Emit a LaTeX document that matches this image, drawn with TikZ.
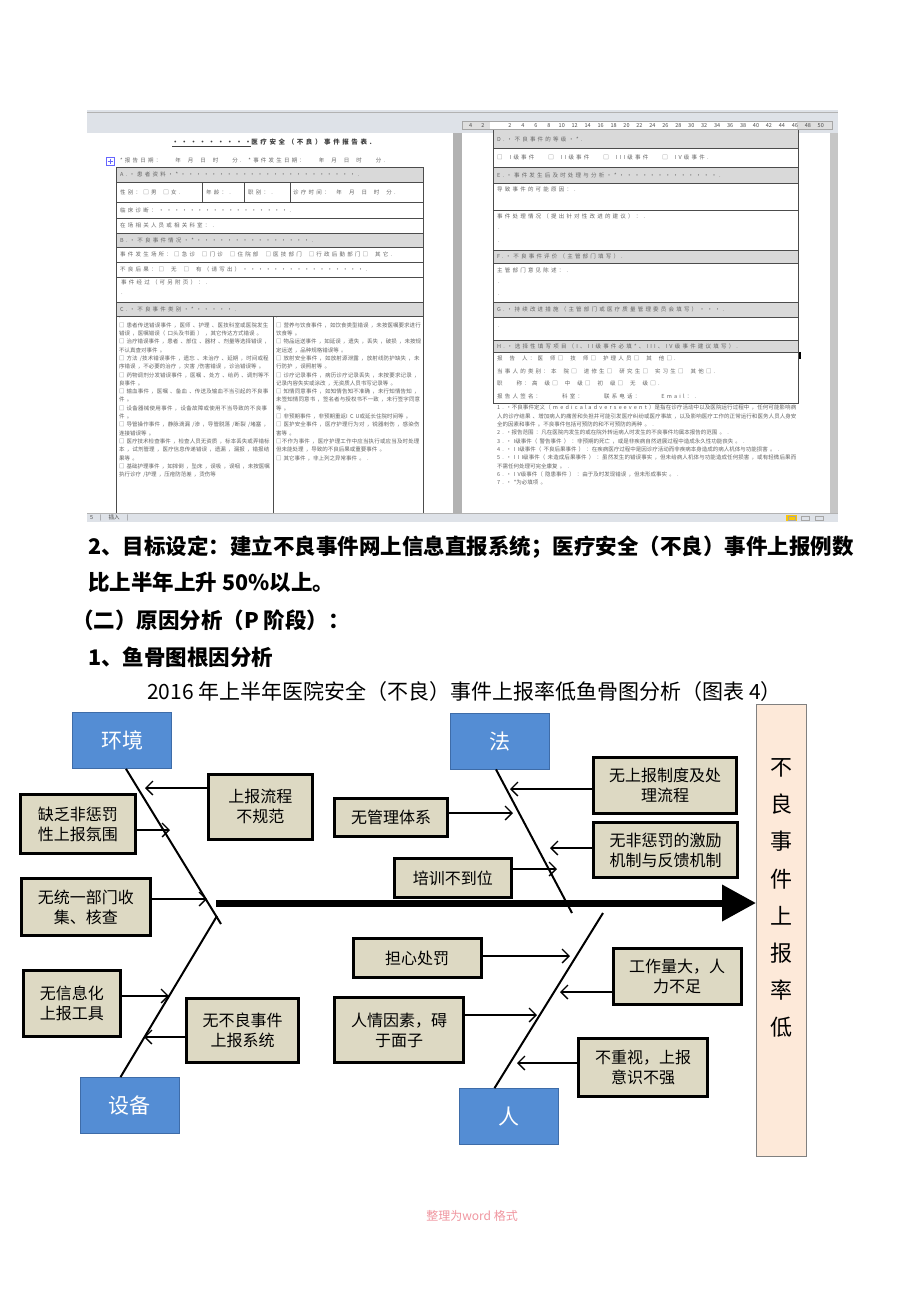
\documentclass[tikz,border=0pt]{standalone}
\usepackage{fontspec}
\usepackage{tikz}
\usetikzlibrary{arrows.meta}
\newfontfamily\cjk{Noto Sans CJK SC}
\newfontfamily\shotcjk[LetterSpace=40]{Noto Sans CJK SC}
\XeTeXlinebreaklocale "zh"
\XeTeXlinebreakskip=0pt plus 1pt
\newcommand\gp{\hspace{7pt}}
\definecolor{catblue}{RGB}{84,141,212}
\definecolor{catedge}{RGB}{62,108,168}
\definecolor{causefill}{RGB}{221,217,195}
\definecolor{effectfill}{RGB}{253,233,217}
\definecolor{effectedge}{RGB}{128,128,128}
\definecolor{barfill}{RGB}{222,226,232}
\definecolor{rowgray}{RGB}{217,217,217}
\definecolor{shotink}{RGB}{100,100,100}
\definecolor{marknote}{RGB}{240,150,160}

\begin{document}
\begin{tikzpicture}[x=1pt, y=-1pt,
  catbox/.style={fill=catblue, draw=catedge, line width=0.8pt, text=white, minimum width=99pt, minimum height=56pt, inner sep=0pt, font=\cjk\fontsize{21}{24}\selectfont},
  causebox/.style={fill=causefill, draw=black, line width=3pt, align=center, inner sep=1pt, font=\cjk\fontsize{16}{20}\selectfont},
  effectbox/.style={fill=effectfill, draw=effectedge, line width=1pt, minimum width=50pt, minimum height=452pt},
  bone/.style={line width=2pt},
  feed/.style={line width=1.3pt, -{Straight Barb[length=7pt,width=14pt]}},
  spine/.style={line width=7pt, -{Triangle[length=34pt,width=35pt]}},
  bodytext/.style={anchor=west, inner sep=0pt, font=\cjk\bfseries\fontsize{21.5}{26}\selectfont},
  cell/.style={anchor=west, inner sep=0pt, text=shotink, font=\shotcjk\fontsize{5.5}{8.3}\selectfont},
  para/.style={anchor=north west, inner sep=0pt, align=left, text width=#1, text=shotink, font=\shotcjk\fontsize{5.5}{8.3}\selectfont},
  rulenum/.style={inner sep=0pt, text=black!70, font=\cjk\fontsize{5.5}{6}\selectfont},
  shotline/.style={draw=black!70, line width=0.7pt}]
\useasboundingbox (0,0) rectangle (920,1302);
\fill[white] (0,0) rectangle (920,1302);

% screenshot of the report form
\fill[barfill] (87,110) rectangle (838,133);
\draw[gray!60, line width=0.6pt] (87,112.5) -- (838,112.5);
\fill[white] (87,133) rectangle (453,513);
\fill[gray!60] (453,133) rectangle (462,513);
\fill[white] (462,133) rectangle (830,513);
\fill[gray!45] (830,133) rectangle (838,513);
\fill[white] (462,121) rectangle (832,129.5);
\fill[gray!25] (462,121) rectangle (490,129.5);
\fill[gray!25] (797,121) rectangle (832,129.5);
\draw[gray!70, line width=0.5pt] (462,121) rectangle (832,129.5);
\node[rulenum] (rl4) at (470.7,125.5) {4};
\node[rulenum] (rl2) at (483,125.5) {2};
\foreach \k [evaluate=\k as \lab using int(2*\k)] in {1,...,25}
  \node[rulenum] (r\k) at (497+12.95*\k,125.5) {\lab};

\node[inner sep=0pt, font=\shotcjk\bfseries\fontsize{6.5}{8}\selectfont, text=black!75] (formtitle) at (272,143) {\underline{·········}医疗安全（不良）事件报告表.};
\draw[blue!60, line width=0.5pt] (106,157) rectangle (114,165);
\draw[blue!60, line width=0.5pt] (110,158.5) -- (110,163.5) (107.5,161) -- (112.5,161);
\node[cell] (datel) at (120,160) {*报告日期：\gp{}\gp{}年\gp{}月\gp{}日\gp{}时\gp{}\gp{}分.\gp{}*事件发生日期：\gp{}\gp{}年\gp{}月\gp{}日\gp{}时\gp{}\gp{}分.};

\foreach \ya/\yb in {167/182, 233/247, 302/316}
  \fill[rowgray] (116,\ya) rectangle (423,\yb);
\draw[shotline] (116,167) rectangle (423,513);
\foreach \yy in {182,202,218,233,247,262,277,302,316}
  \draw[shotline] (116,\yy) -- (423,\yy);
\foreach \xx in {202,244,290}
  \draw[shotline] (\xx,182) -- (\xx,202);
\draw[shotline] (273,316) -- (273,513);

\node[cell] (la) at (120,174.5) {A.·患者资料·*·······················.};
\node[cell] (lsex) at (120,192) {性别：□男\gp{}□女.};
\node[cell] (lage) at (206,192) {年龄：.};
\node[cell] (ljob) at (248,192) {职别：.};
\node[cell] (ltime) at (293,192) {诊疗时间：\gp{}年\gp{}月\gp{}日\gp{}时\gp{}分.};
\node[cell] (ldiag) at (120,210) {临床诊断：·················.};
\node[cell] (lstaff) at (120,225.5) {在场相关人员或相关科室：.};
\node[cell] (lb) at (120,240) {B.·不良事件情况·*···············.};
\node[cell] (lplace) at (120,254.5) {事件发生场所：□急诊\gp{}□门诊\gp{}□住院部\gp{}□医技部门\gp{}□行政后勤部门□\gp{}其它.};
\node[cell] (lresult) at (120,269.5) {不良后果：□\gp{}无\gp{}□\gp{}有（请写出）················.};
\node[cell] (lcourse) at (121,282) {事件经过（可另附页）：.};
\node[cell] (lcourse2) at (121,294) {.};
\node[cell] (lc) at (120,309) {C.·不良事件类别·*·····.};
\node[para=151pt] (lcolA) at (119,318) {.\\
□ 患者传送错误事件，医师、护理、医技科室或医院发生错误，医嘱错误（口头及书面），其它传达方式错误。\\
□ 治疗错误事件，患者、部位、器材、剂量等选择错误，不认真查对事件。\\
□ 方法/技术错误事件，遗忘、未治疗、延期，时间或程序错误，不必要的治疗，灾害/伤害错误，诊治错误等。\\
□ 药物调剂分发错误事件，医嘱、处方、给药、调剂等不良事件。\\
□ 输血事件，医嘱、备血、传送及输血不当引起的不良事件。\\
□ 设备器械使用事件，设备故障或使用不当导致的不良事件。\\
□ 导管操作事件，静脉滴漏/渗，导管脱落/断裂/堵塞，连接错误等。\\
□ 医疗技术检查事件，检查人员无资质，标本丢失或弄错标本，试剂管理，医疗信息传递错误，遗漏，漏报，错报结果等。\\
□ 基础护理事件，如摔倒，坠床，误吸，误咽，未按医嘱执行诊疗/护理，压疮防范差，烫伤等};
\node[para=145pt] (lcolB) at (276,318) {.\\
□ 营养与饮食事件，如饮食类型错误，未按医嘱要求进行饮食等。\\
□ 物品运送事件，如延误，遗失，丢失，破损，未按规定运送，品种规格错误等。\\
□ 放射安全事件，如放射源泄露，放射线防护缺失，未行防护，误照射等。\\
□ 诊疗记录事件，病历诊疗记录丢失，未按要求记录，记录内容失实或涂改，无资质人员书写记录等。\\
□ 知情同意事件，如知情告知不准确，未行知情告知，未签知情同意书，签名者与授权书不一致，未行签字同意等。\\
□ 非预期事件，非预期重返ICU或延长住院时间等。\\
□ 医护安全事件，医疗护理行为对，锐器刺伤，感染伤害等。\\
□不作为事件，医疗护理工作中应当执行或应当及时处理但未能处理，导致的不良后果或重要事件。\\
□ 其它事件，非上列之异常事件。.};

\foreach \ya/\yb in {130/148, 167/183, 250/263, 302/317, 340/352}
  \fill[rowgray] (493,\ya) rectangle (798,\yb);
\draw[shotline] (493,130) -- (493,403) -- (798,403) -- (798,130);
\foreach \yy in {148,167,183,210,250,263,302,317,340,352}
  \draw[shotline] (493,\yy) -- (798,\yy);
\draw[black, line width=1.2pt] (800,352) -- (800,359);

\node[cell] (rd) at (497,139) {D.·不良事件的等级·*.};
\node[cell] (rlevel) at (497,157.5) {□\gp{}I级事件\gp{}\gp{}□\gp{}II级事件\gp{}\gp{}□\gp{}III级事件\gp{}\gp{}□\gp{}IV级事件.};
\node[cell] (re) at (497,175) {E.·事件发生后及时处理与分析·*·············.};
\node[cell] (rcause) at (497,189) {导致事件的可能原因：.};
\node[cell] (rhandle) at (497,216) {事件处理情况（提出针对性改进的建议）：.};
\node[cell] (rhandle2) at (498,229) {.};
\node[cell] (rhandle3) at (498,242) {.};
\node[cell] (rf) at (497,256.5) {F.·不良事件评价（主管部门填写）.};
\node[cell] (rview) at (497,270) {主管部门意见陈述：.};
\node[cell] (rview2) at (498,283) {.};
\node[cell] (rview3) at (498,295) {.};
\node[cell] (rg) at (497,309.5) {G.·持续改进措施（主管部门或医疗质量管理委员会填写）···.};
\node[cell] (rblank) at (498,327) {.};
\node[cell] (rh) at (497,346) {H.·选择性填写项目（I、II级事件必填*、III、IV级事件建议填写）.};
\node[cell] (rrep) at (497,358) {报\gp{}告\gp{}人：医\gp{}师□\gp{}技\gp{}师□\gp{}护理人员□\gp{}其\gp{}他□.};
\node[cell] (rkind) at (497,371) {当事人的类别：本\gp{}院□\gp{}进修生□\gp{}研究生□\gp{}实习生□\gp{}其他□.};
\node[cell] (rtitle) at (497,383.5) {职\gp{}\gp{}称：高\gp{}级□\gp{}中\gp{}级□\gp{}初\gp{}级□\gp{}无\gp{}级□.};
\node[cell] (rsign) at (497,396) {报告人签名：\gp{}\gp{}\gp{}科室：\gp{}\gp{}\gp{}联系电话：\gp{}\gp{}\gp{}Email：.};
\node[para=300pt] (rnotes) at (497,405) {1.·不良事件定义（medical adverse event）是指在诊疗活动中以及医院运行过程中，任何可能影响病人的诊疗结果、增加病人的痛苦和负担并可能引发医疗纠纷或医疗事故，以及影响医疗工作的正常运行和医务人员人身安全的因素和事件。不良事件包括可预防的和不可预防的两种。.\\
2.·报告范围：凡在医院内发生的或在院外转运病人时发生的不良事件均属本报告的范围。.\\
3.·I级事件（警告事件）：非预期的死亡，或是非疾病自然进展过程中造成永久性功能丧失。.\\
4.·II级事件（不良后果事件）：在疾病医疗过程中是因诊疗活动而非疾病本身造成的病人机体与功能损害。.\\
5.·III级事件（未造成后果事件）：虽然发生的错误事实，但未给病人机体与功能造成任何损害，或有轻微后果而不需任何处理可完全康复。.\\
6.·IV级事件（隐患事件）：由于及时发现错误，但未形成事实。.\\
7.·*为必填项。};

\fill[barfill] (87,513) rectangle (838,522);
\draw[gray!60, line width=0.4pt] (87,513) -- (838,513);
\node[rulenum, anchor=west] (status) at (90,517.5) {5\gp{}|\gp{}插入\gp{}|};
\fill[yellow!60!orange] (786,514.5) rectangle (797,521);
\draw[gray!70, line width=0.4pt] (788,516) rectangle (795,520) (801,516) rectangle (809,520) (815,516) rectangle (823,520);

% text of the page
\node[bodytext] (goal) at (88,547) {2、目标设定：建立不良事件网上信息直报系统；医疗安全（不良）事件上报例数};
\node[bodytext] (goal2) at (88,582) {比上半年上升 50\%以上。};
\node[bodytext] (reason) at (72,620) {（二）原因分析（P 阶段）：};
\node[bodytext] (fishhead) at (88,657) {1、鱼骨图根因分析};
\node[anchor=west, inner sep=0pt, font=\cjk\fontsize{21}{26}\selectfont] (figtitle) at (147,692) {2016 年上半年医院安全（不良）事件上报率低鱼骨图分析（图表 4）};

% fishbone
\node[effectbox] (effect) at (781.5,930.5) {};
\node[align=center, inner sep=0pt, font=\cjk\fontsize{22}{37.1}\selectfont] (efflabel) at (781.5,898) {不\\良\\事\\件\\上\\报\\率\\低};
\coordinate (tail) at (216,903);
\draw[spine] (tail) -- (effect.west |- tail);

\node[catbox] (huanjing) at (122,740.5) {环境};
\node[catbox] (shebei) at (129.5,1105.5) {设备};
\node[catbox] (fa) at (500,741) {法};
\node[catbox] (ren) at (508.5,1116.5) {人};

\coordinate (hjend) at (221,924);
\coordinate (sbend) at (217,916);
\coordinate (faend) at (572,913);
\coordinate (renend) at (603,913);
\draw[bone] ([xshift=4pt]huanjing.south) -- (hjend);
\draw[bone] ([xshift=-9pt]shebei.north) -- (sbend);
\draw[bone] ([xshift=-4pt]fa.south) -- (faend);
\draw[bone] ([xshift=-14pt]ren.north) -- (renend);

\node[causebox, minimum width=104pt, minimum height=65pt] (c1) at (260.3,806.7) {上报流程\\不规范};
\node[causebox, minimum width=115pt, minimum height=59pt] (c2) at (77.8,824) {缺乏非惩罚\\性上报氛围};
\node[causebox, minimum width=129pt, minimum height=57pt] (c3) at (85.8,907) {无统一部门收\\集、核查};
\node[causebox, minimum width=97pt, minimum height=66pt] (c4) at (71.8,1003.5) {无信息化\\上报工具};
\node[causebox, minimum width=112pt, minimum height=64pt] (c5) at (242.5,1030.3) {无不良事件\\上报系统};
\node[causebox, minimum width=143pt, minimum height=56pt] (c6) at (665,785.5) {无上报制度及处\\理流程};
\node[causebox, minimum width=113pt, minimum height=38pt] (c7) at (391,817.5) {无管理体系};
\node[causebox, minimum width=144pt, minimum height=55pt] (c8) at (665.5,850) {无非惩罚的激励\\机制与反馈机制};
\node[causebox, minimum width=117pt, minimum height=39pt] (c9) at (452.8,878) {培训不到位};
\node[causebox, minimum width=128pt, minimum height=39pt] (c10) at (417.2,958) {担心处罚};
\node[causebox, minimum width=128pt, minimum height=56pt] (c11) at (677.2,976.3) {工作量大，人\\力不足};
\node[causebox, minimum width=129pt, minimum height=65pt] (c12) at (399,1030) {人情因素，碍\\于面子};
\node[causebox, minimum width=129pt, minimum height=58pt] (c13) at (643,1067.2) {不重视，上报\\意识不强};

\coordinate (a1) at (145,788);
\coordinate (a2) at (170,830);
\coordinate (a3) at (207,899);
\coordinate (a4) at (169,996);
\coordinate (a5) at (144,1037);
\coordinate (a6) at (510,789);
\coordinate (a7) at (513,813);
\coordinate (a8) at (550,848);
\coordinate (a9) at (557,869);
\coordinate (a10) at (570,956);
\coordinate (a11) at (560,992);
\coordinate (a12) at (537,1015);
\coordinate (a13) at (517,1063);
\draw[feed] (c1.west |- a1) -- (a1);
\draw[feed] (c2.east |- a2) -- (a2);
\draw[feed] (c3.east |- a3) -- (a3);
\draw[feed] (c4.east |- a4) -- (a4);
\draw[feed] (c5.west |- a5) -- (a5);
\draw[feed] (c6.west |- a6) -- (a6);
\draw[feed] (c7.east |- a7) -- (a7);
\draw[feed] (c8.west |- a8) -- (a8);
\draw[feed] (c9.east |- a9) -- (a9);
\draw[feed] (c10.east |- a10) -- (a10);
\draw[feed] (c11.west |- a11) -- (a11);
\draw[feed] (c12.east |- a12) -- (a12);
\draw[feed] (c13.west |- a13) -- (a13);

\node[inner sep=0pt, text=marknote, font=\cjk\fontsize{12}{14}\selectfont] (wm) at (472,1216) {整理为word 格式};
\end{tikzpicture}
\end{document}
